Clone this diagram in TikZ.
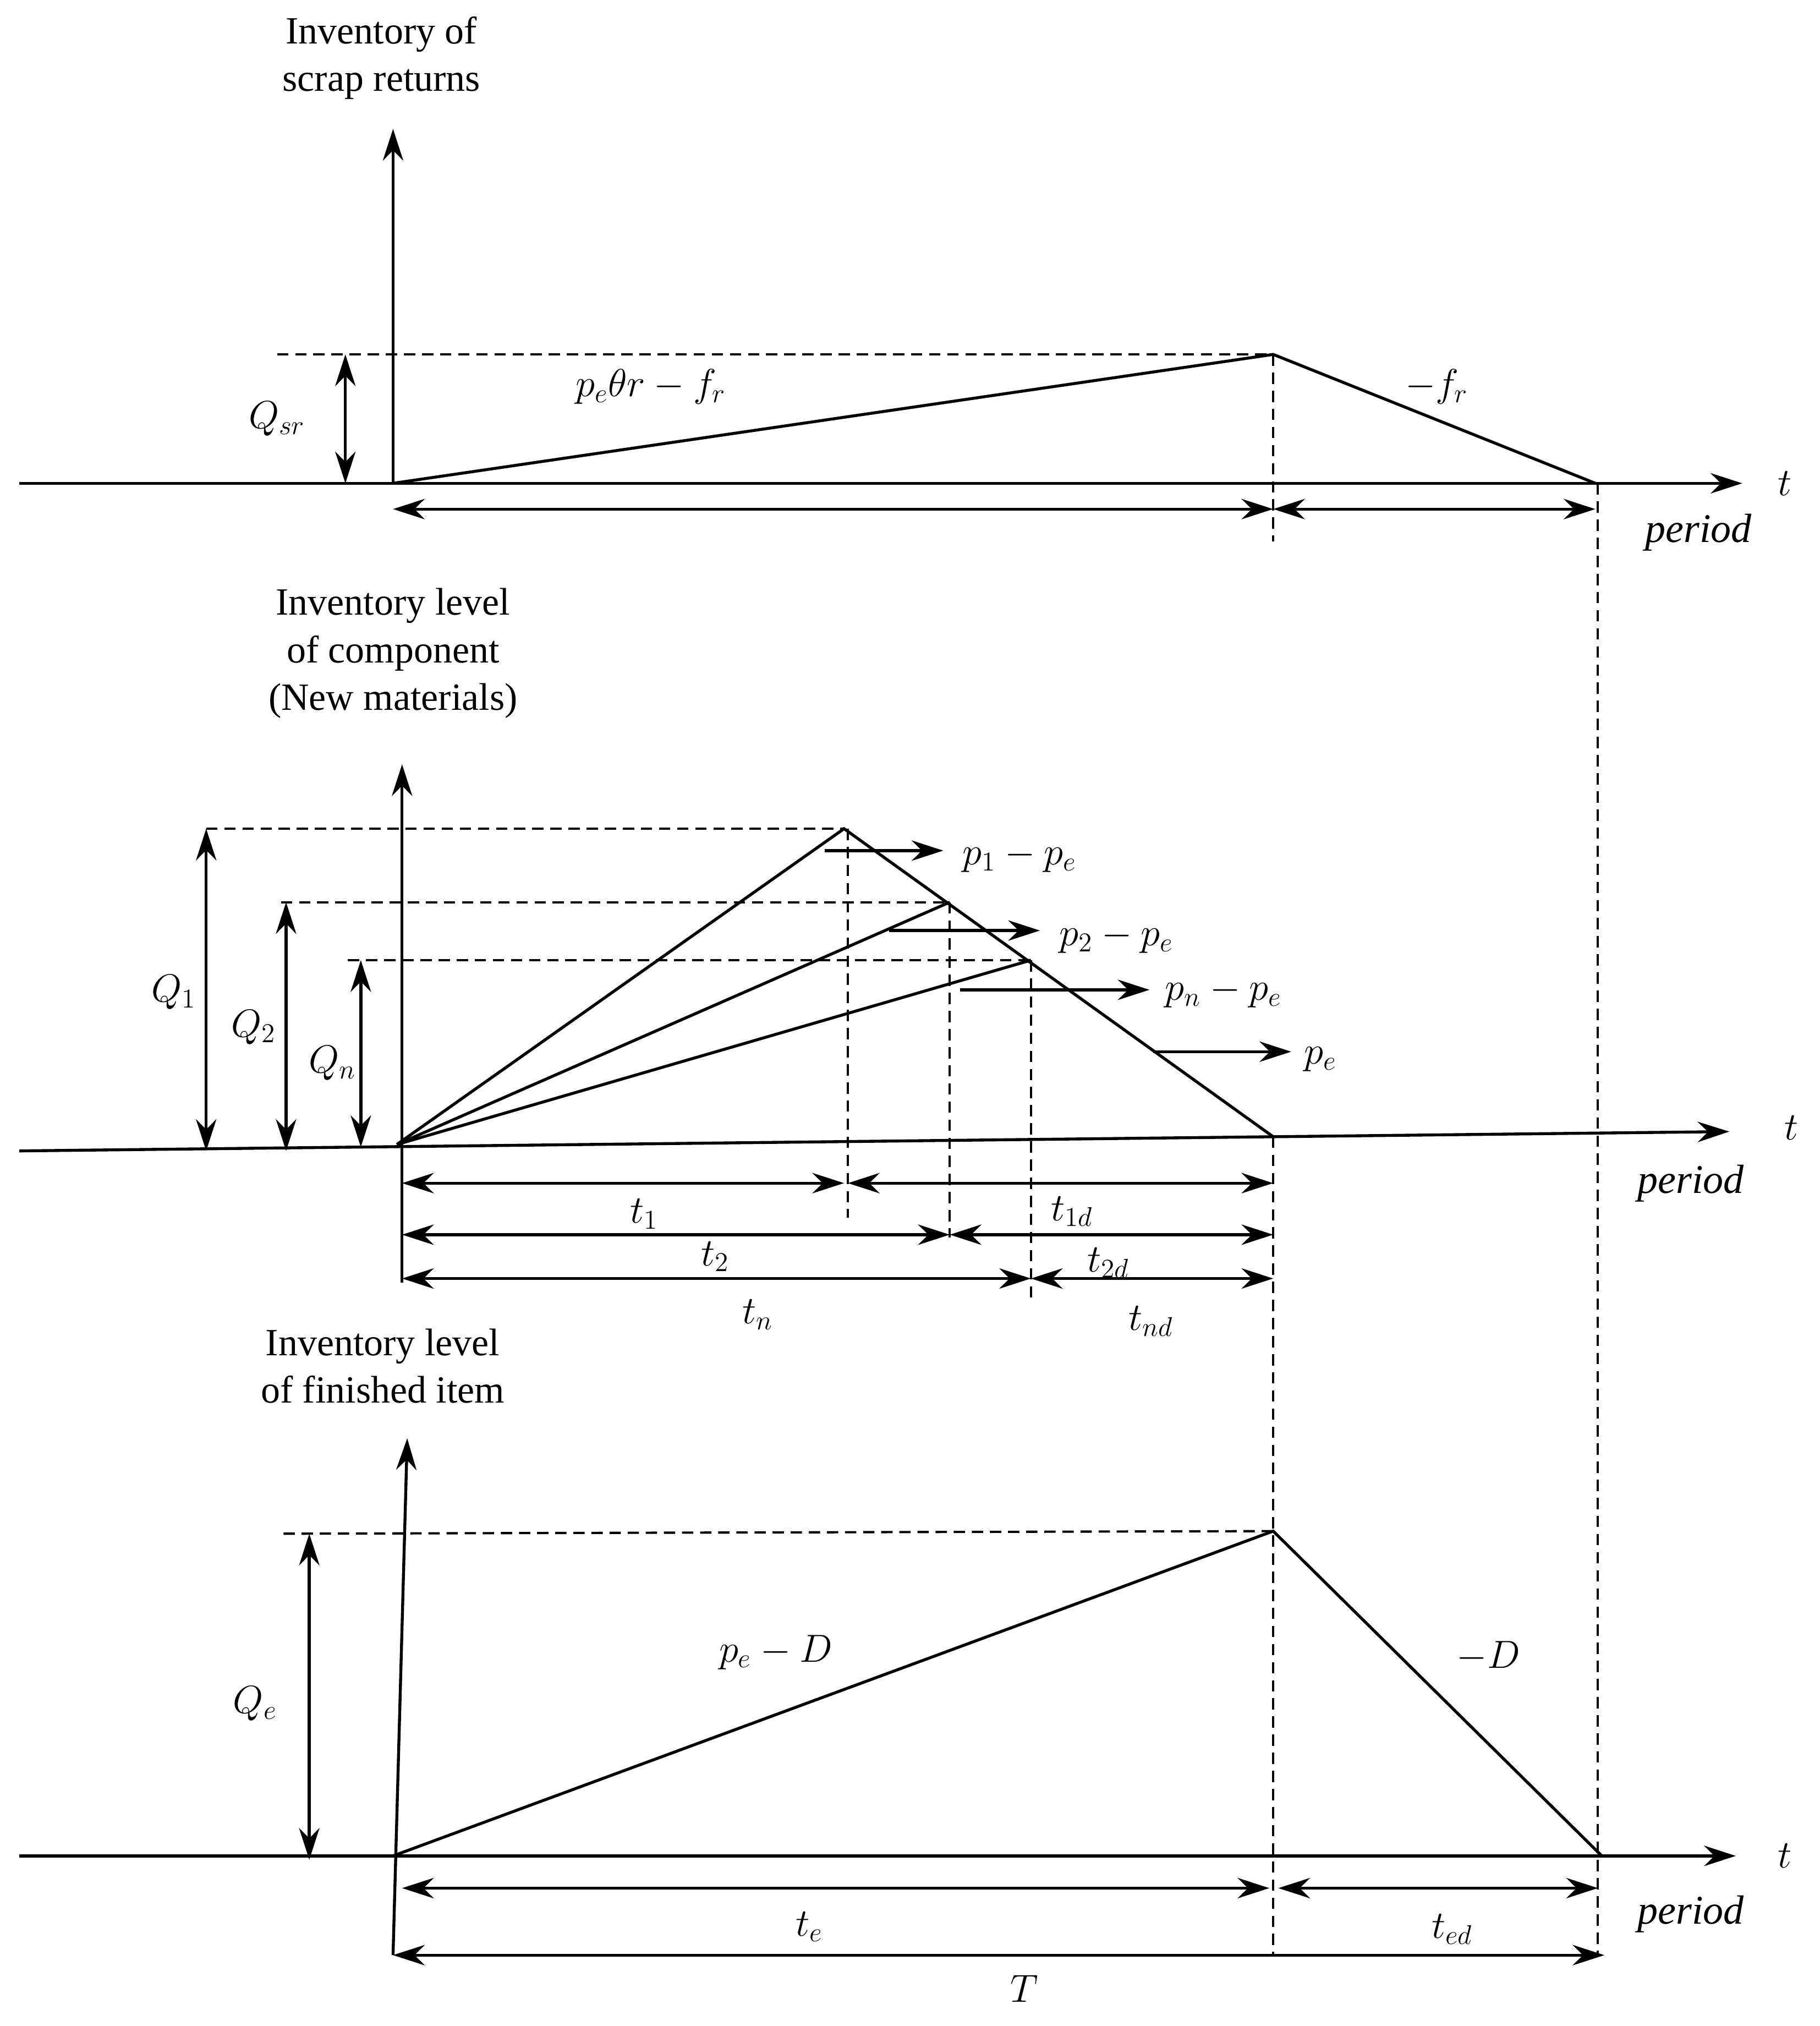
\documentclass[tikz,border=0pt]{standalone}
\usepackage{fontspec}
\setmainfont{Liberation Serif}
\usetikzlibrary{arrows.meta}
\begin{document}
\begin{tikzpicture}[x=0.02cm,y=-0.02cm,line width=1.3pt,
 ax/.style={-{Stealth[length=14pt,width=9pt]}},
 dbl/.style={{Stealth[length=14pt,width=9pt]}-{Stealth[length=14pt,width=9pt]}},
 dsh/.style={dashed,line width=1pt,dash pattern=on 5pt off 3pt},
 lbl/.style={font=\fontsize{18}{18}\selectfont},
 ttl/.style={align=center,font=\fontsize{17}{21}\selectfont}]
\useasboundingbox (0,0) rectangle (1412,1572);
% ---------- top panel
\coordinate (A0) at (305,375); \coordinate (A1) at (988,275); \coordinate (A2) at (1238,375);
\draw[ax] (305,375) -- (305,100);
\draw[ax] (15,375) -- (1352,375);
\node[lbl] (t1x) at (1385,375) {$t$};
\node[lbl] (p1x) at (1318,413) {\itshape period};
\node[ttl] (ti1) at (296,45) {Inventory of\\scrap returns};
\draw[dsh] (215,275) -- (A1);
\draw (A0) -- (A1) -- (A2);
\draw[dsh] (988,275) -- (988,420);
\draw[dsh] (1240,375) -- (1240,1517);
\draw[dbl] (268,275) -- (268,375);
\node[lbl] (qsr) at (215,325) {$Q_{sr}$};
\node[lbl] (s1) at (505,300) {$p_e\theta r-f_r$};
\node[lbl] (s2) at (1115,300) {$-f_r$};
\draw[dbl] (305,395) -- (988,395);
\draw[dbl] (988,395) -- (1238,395);
% ---------- middle panel
\draw[ax] (312,995) -- (312,593);
\draw[ax] (15,893) -- (1342,878);
\node[lbl] (t2x) at (1390,875) {$t$};
\node[lbl] (p2x) at (1312,918) {\itshape period};
\node[ttl] (ti2) at (305,507) {Inventory level\\of component\\(New materials)};
\coordinate (O) at (308,888);
\coordinate (P1) at (655,643); \coordinate (P2) at (737,700); \coordinate (P3) at (800,745);
\coordinate (E) at (988,882);
\draw (O) -- (P1) -- (E); \draw (O) -- (P2); \draw (O) -- (P3);
\draw[dsh] (160,643) -- (P1); \draw[dsh] (218,700) -- (P2); \draw[dsh] (270,745) -- (P3);
\draw[dsh] (658,643) -- (658,945); \draw[dsh] (737,700) -- (737,960); \draw[dsh] (800,745) -- (800,1012);
\draw[dsh] (988,882) -- (988,1517);
\draw[dbl] (160,643) -- (160,893); \draw[dbl] (222,700) -- (222,893); \draw[dbl] (280,745) -- (280,890);
\node[lbl] (q1) at (135,770) {$Q_1$}; \node[lbl] (q2) at (197,797) {$Q_2$}; \node[lbl] (qn) at (258,825) {$Q_n$};
\draw[ax] (640,660) -- (732,660); \node[lbl,anchor=west] (l1) at (740,665) {$p_1-p_e$};
\draw[ax] (690,722) -- (807,722); \node[lbl,anchor=west] (l2) at (815,728) {$p_2-p_e$};
\draw[ax] (745,768) -- (892,768); \node[lbl,anchor=west] (l3) at (897,770) {$p_n-p_e$};
\draw[ax] (895,816) -- (1002,816); \node[lbl,anchor=west] (l4) at (1005,822) {$p_e$};
\draw[dbl] (312,918) -- (655,918); \draw[dbl] (658,918) -- (988,918);
\draw[dbl] (312,958) -- (737,958); \draw[dbl] (737,958) -- (988,958);
\draw[dbl] (312,992) -- (800,992); \draw[dbl] (800,992) -- (988,992);
\node[lbl] (a1) at (500,942) {$t_1$}; \node[lbl] (a2) at (832,940) {$t_{1d}$};
\node[lbl] (a3) at (555,975) {$t_2$}; \node[lbl] (a4) at (860,980) {$t_{2d}$};
\node[lbl] (a5) at (588,1020) {$t_n$}; \node[lbl] (a6) at (893,1025) {$t_{nd}$};
% ---------- bottom panel
\draw[ax] (305,1517) -- (316,1116);
\draw[ax] (15,1440) -- (1347,1440);
\node[lbl] (t3x) at (1385,1440) {$t$};
\node[lbl] (p3x) at (1312,1485) {\itshape period};
\node[ttl] (ti3) at (297,1060) {Inventory level\\of finished item};
\coordinate (B0) at (305,1440); \coordinate (B1) at (988,1188); \coordinate (B2) at (1243,1440);
\draw (B0) -- (B1) -- (B2);
\draw[dsh] (220,1190) -- (B1);
\draw[dbl] (240,1190) -- (240,1443);
\node[lbl] (qe) at (198,1322) {$Q_e$};
\node[lbl] (d1) at (602,1282) {$p_e-D$};
\node[lbl] (d2) at (1155,1285) {$-D$};
\draw[dbl] (312,1465) -- (985,1465); \draw[dbl] (992,1465) -- (1240,1465);
\draw[dbl] (305,1517) -- (1245,1517);
\node[lbl] (te) at (628,1495) {$t_e$}; \node[lbl] (ted) at (1127,1497) {$t_{ed}$};
\node[lbl] (TT) at (795,1543) {$T$};
\end{tikzpicture}
\end{document}
